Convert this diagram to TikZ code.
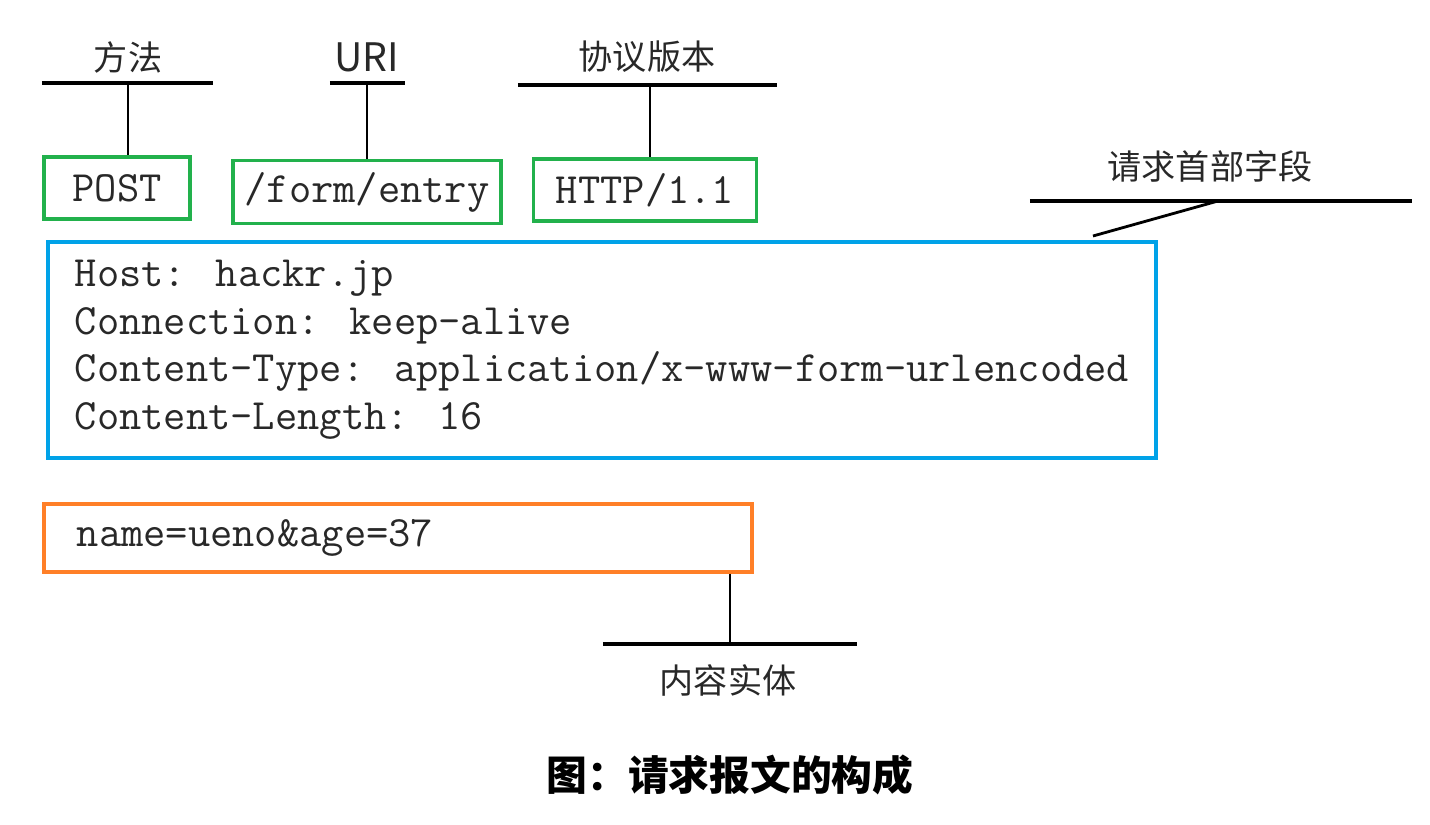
\documentclass[tikz,border=0pt]{standalone}
\usepackage{fontspec}
\newfontfamily\cjk{Noto Sans CJK SC}
\usetikzlibrary{positioning}
\definecolor{boxgreen}{RGB}{34,177,76}
\definecolor{boxblue}{RGB}{0,162,232}
\definecolor{boxorange}{RGB}{255,127,39}
\definecolor{inkgray}{RGB}{40,40,40}

\begin{document}
\begin{tikzpicture}[x=0.01cm, y=-0.01cm,
        codefont/.style={font=\ttfamily\fontsize{12.3pt}{13.5pt}\selectfont, text=inkgray},
        linebox/.style={codefont, draw=boxgreen, line width=1pt, minimum height=0.62cm},
        headbox/.style={codefont, draw=boxblue, line width=1pt, align=left, inner xsep=0.27cm},
        bodybox/.style={codefont, draw=boxorange, line width=1pt, align=left, inner xsep=0.33cm},
        fieldname/.style={font=\cjk\fontsize{9.7pt}{11pt}\selectfont, text=inkgray},
        bar/.style={line width=1.2pt},
        stem/.style={line width=0.8pt}]
        \useasboundingbox (0,0) rectangle (1430,824);
        % Request line
        \node[linebox, minimum width=1.46cm] (method) at (117,188) {POST};
        \node[linebox, minimum width=2.68cm] (uri) at (367,192) {/form/entry};
        \node[linebox, minimum width=2.23cm] (version) at (645,190) {HTTP/1.1};
        % Header and body
        \node[headbox, anchor=north west, minimum height=2.16cm] (header) at (46,240)
            {Host: hackr.jp\\Connection: keep-alive\\Content-Type: application/x-www-form-urlencoded\\Content-Length: 16};
        \node[bodybox, anchor=north west, text width=6.42cm, minimum height=0.68cm] (body) at (42,502) {name=ueno\&age=37};
        % Ticks
        \coordinate (mtick) at (128,83);
        \coordinate (utick) at (367,83);
        \coordinate (vtick) at (650,85);
        \coordinate (htick) at (1218,201);
        \coordinate (hend) at (1093,236);
        \coordinate (etick) at (730,644);
        % Names
        \node[fieldname, above of=mtick, node distance=0.26cm] (lmethod) {方法};
        \node[fieldname, above of=utick, node distance=0.26cm, scale=1.15] (luri) {URI};
        \node[fieldname, above of=vtick, node distance=0.28cm, xshift=-0.03cm] (lversion) {协议版本};
        \node[fieldname, above of=htick, node distance=0.34cm, xshift=-0.08cm] (lheader) {请求首部字段};
        \node[fieldname, below of=etick, node distance=0.36cm, xshift=-0.02cm] (lbody) {内容实体};
        \node[font=\cjk\bfseries\fontsize{11.6pt}{13pt}\selectfont] (caption) at (730,775) {图：请求报文的构成};
        % Bars
        \draw[bar] ([xshift=-0.86cm]mtick) -- ([xshift=0.85cm]mtick);
        \draw[bar] ([xshift=-0.37cm]utick) -- ([xshift=0.38cm]utick);
        \draw[bar] ([xshift=-1.32cm]vtick) -- ([xshift=1.27cm]vtick);
        \draw[bar] ([xshift=-1.88cm]htick) -- ([xshift=1.94cm]htick);
        \draw[bar] ([xshift=-1.27cm]etick) -- ([xshift=1.27cm]etick);
        % Stems
        \draw[stem] (mtick) -- (mtick |- method.north);
        \draw[stem] (utick) -- (utick |- uri.north);
        \draw[stem] (vtick) -- (vtick |- version.north);
        \draw[stem] (htick) -- (hend);
        \draw[stem] (etick |- body.south) -- (etick);
    \end{tikzpicture}
\end{document}
